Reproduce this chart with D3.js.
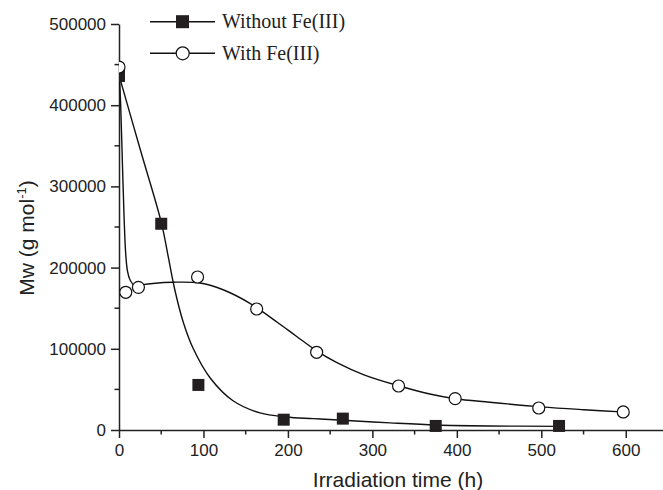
<!DOCTYPE html>
<html>
<head>
  <meta charset="utf-8" />
  <script src="https://cdnjs.cloudflare.com/ajax/libs/d3/7.8.5/d3.min.js"></script>
  <style>
    body { margin: 0; background: #fff; }
    .tick text { font-family: "Liberation Sans", Arial, sans-serif; font-size: 17px; fill: #222; }
    .domain, .tick line { stroke: #222; stroke-width: 1.5; }
  </style>
</head>
<body>
  <svg width="663" height="490"></svg>
  <script>
    // measured points
    var tWithout = [0, 50, 94, 195, 265, 375, 521]
    var mwWithout = [436000, 254000, 55500, 12700, 14000, 5000, 5000]
    var tWith = [0, 8, 23, 93, 163, 234, 331, 398, 497, 597]
    var mwWith = [447000, 169600, 175700, 188400, 149000, 95700, 54200, 38600, 27100, 22200]

    // fitted curves
    var fitWithoutT = [0, 25, 50, 58, 66, 76, 88, 108, 135, 167, 198, 230, 265, 321, 376, 439, 521]
    var fitWithoutMw = [437000, 346000, 256000, 215000, 173000, 133000, 100000, 64000, 36000, 21000, 16000, 14000, 12000, 8800, 6200, 5000, 4500]
    var fitWithT = [0, 2, 4, 6, 8, 10, 13, 19, 25, 40, 64, 96, 124, 155, 187, 210, 234, 258, 290, 331, 368, 398, 439, 500, 550, 600]
    var fitWithMw = [447000, 400000, 330000, 262000, 216000, 196000, 185000, 177500, 178500, 180500, 182000, 181000, 172400, 156000, 133000, 115500, 97500, 83000, 68000, 54500, 44300, 38500, 34200, 28500, 25000, 22000]

    var xTicks = [0, 100, 200, 300, 400, 500, 600]
    var yTicks = [0, 100000, 200000, 300000, 400000, 500000]
    var seriesNames = ["Without Fe(III)", "With Fe(III)"]

    var svg = d3.select("svg")
    var xScale = d3.scaleLinear().domain([0, 650]).range([119, 668])
    var yScale = d3.scaleLinear().domain([0, 500000]).range([430, 24])

    svg.append("defs").append("clipPath").attr("id", "plot")
      .append("rect").attr("x", 119).attr("y", 0).attr("width", 560).attr("height", 432)

    // minor ticks
    var xMinor = d3.range(50, 650, 100)
    var yMinor = d3.range(50000, 500000, 100000)
    svg.append("g").selectAll("line").data(xMinor).enter().append("line")
      .attr("x1", d => xScale(d)).attr("x2", d => xScale(d))
      .attr("y1", 430).attr("y2", 434.5)
      .style("stroke", "#222").style("stroke-width", 1.5)
    svg.append("g").selectAll("line").data(yMinor).enter().append("line")
      .attr("y1", d => yScale(d)).attr("y2", d => yScale(d))
      .attr("x1", 119).attr("x2", 114.5)
      .style("stroke", "#222").style("stroke-width", 1.5)

    var xAxis = d3.axisBottom(xScale).tickValues(xTicks).tickSize(8).tickPadding(6).tickSizeOuter(0)
    svg.append("g").attr("transform", "translate(0,430)").call(xAxis)
    var yAxis = d3.axisLeft(yScale).tickValues(yTicks).tickSize(8).tickPadding(5).tickSizeOuter(0).tickFormat(d3.format("d"))
    svg.append("g").attr("transform", "translate(119,0)").call(yAxis)

    svg.append("text").attr("x", 398).attr("y", 487)
      .attr("text-anchor", "middle")
      .style("font-family", "Liberation Sans, Arial, sans-serif").style("font-size", "21px").style("fill", "#222")
      .text("Irradiation time (h)")

    var yTitle = svg.append("text").attr("transform", "translate(34,238) rotate(-90)")
      .attr("text-anchor", "middle")
      .style("font-family", "Liberation Sans, Arial, sans-serif").style("font-size", "21px").style("fill", "#222")
    yTitle.append("tspan").text("Mw (g mol")
    yTitle.append("tspan").attr("dy", -8).style("font-size", "13px").text("-1")
    yTitle.append("tspan").attr("dy", 8).text(")")

    var line = d3.line().x(d => xScale(d[0])).y(d => yScale(d[1])).curve(d3.curveCatmullRom.alpha(0.5))
    var plot = svg.append("g").attr("clip-path", "url(#plot)")

    plot.append("path").datum(d3.zip(fitWithoutT, fitWithoutMw))
      .attr("d", line).style("fill", "none").style("stroke", "#111").style("stroke-width", 1.4)
    plot.append("path").datum(d3.zip(fitWithT, fitWithMw))
      .attr("d", line).style("fill", "none").style("stroke", "#111").style("stroke-width", 1.4)

    plot.selectAll("rect.sq").data(d3.zip(tWithout, mwWithout)).enter().append("rect")
      .attr("class", "sq")
      .attr("x", d => xScale(d[0]) - 6).attr("y", d => yScale(d[1]) - 6)
      .attr("width", 12).attr("height", 12)
      .style("fill", "#231f20")
    plot.selectAll("circle.ci").data(d3.zip(tWith, mwWith)).enter().append("circle")
      .attr("class", "ci")
      .attr("cx", d => xScale(d[0])).attr("cy", d => yScale(d[1]))
      .attr("r", 6)
      .style("fill", "#fff").style("stroke", "#111").style("stroke-width", 1.2)

    // legend
    var legend = svg.append("g")
    seriesNames.forEach(function(name, i) {
      var y = 21.7 + i * 31.6
      legend.append("line").attr("x1", 150).attr("x2", 215).attr("y1", y).attr("y2", y)
        .style("stroke", "#111").style("stroke-width", 1.4)
      if (i == 0) {
        legend.append("rect").attr("x", 176).attr("y", y - 6.5).attr("width", 13).attr("height", 13)
          .style("fill", "#231f20")
      } else {
        legend.append("circle").attr("cx", 182.7).attr("cy", y).attr("r", 6.5)
          .style("fill", "#fff").style("stroke", "#111").style("stroke-width", 1.2)
      }
      legend.append("text").attr("x", 222).attr("y", y + 6.5)
        .style("font-family", "Liberation Serif, Times New Roman, serif").style("font-size", "20px").style("fill", "#222")
        .text(name)
    })
  </script>
</body>
</html>
